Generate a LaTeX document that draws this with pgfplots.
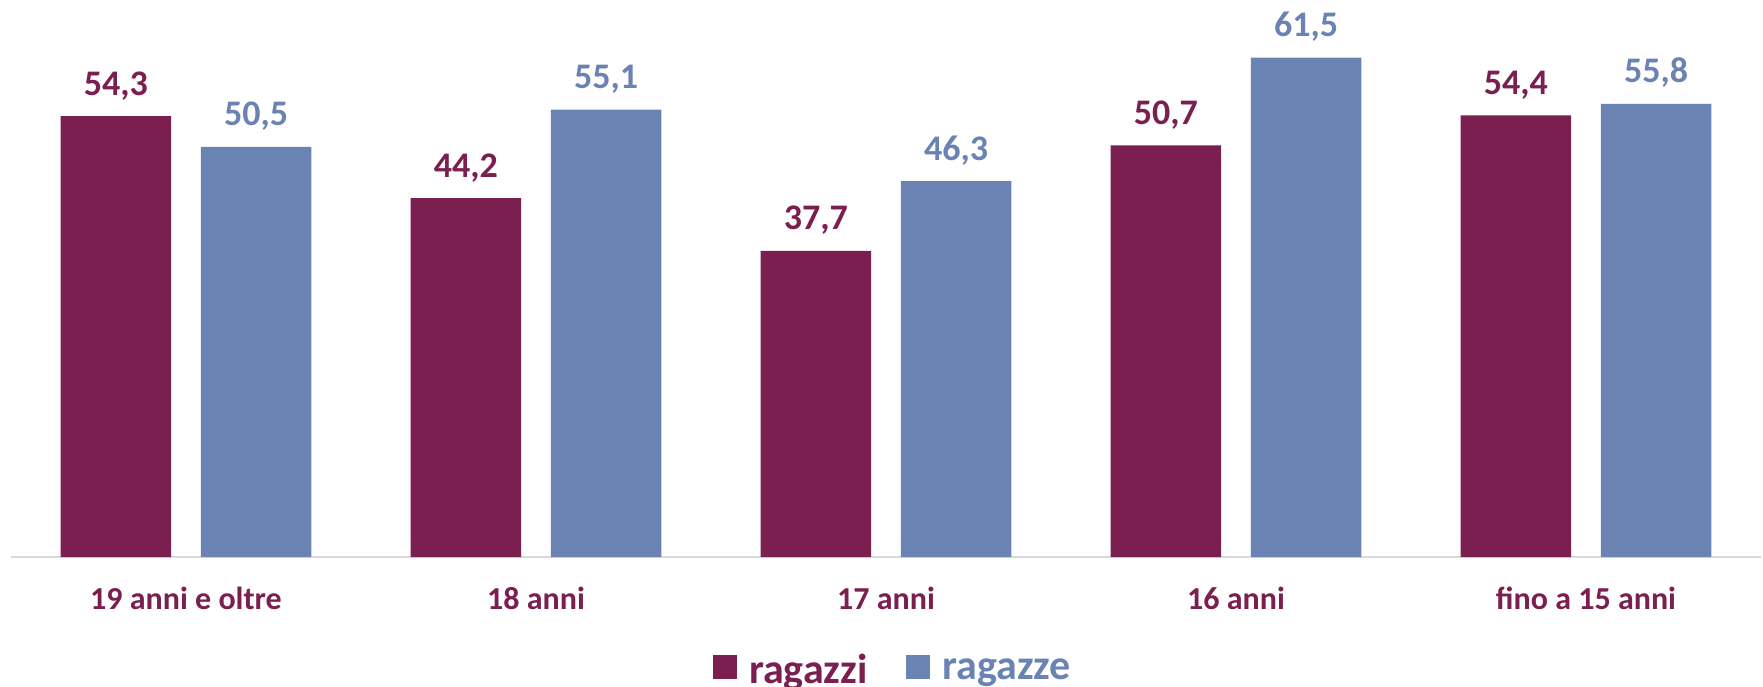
\documentclass[border=0pt]{standalone}
\usepackage{pgfplots}
\pgfplotsset{compat=1.18}
\usepackage{fontspec}
\setmainfont{Carlito}
\definecolor{boys}{HTML}{7A1F50}
\definecolor{girls}{HTML}{6B83B2}
\definecolor{axisgray}{HTML}{D9D9D9}
\begin{document}
\begin{tikzpicture}
\begin{axis}[
  at={(0,0)}, anchor=south west,
  scale only axis, width=875pt, height=278.5pt,
  xmin=-0.5, xmax=4.5, ymin=0, ymax=68.6,
  ybar, bar width=55.25pt,
  axis x line*=bottom, axis y line=none,
  x axis line style={-, draw=axisgray, line width=0.8pt},
  xtick={0,1,2,3,4},
  xticklabels={19 anni e oltre, 18 anni, 17 anni, 16 anni, fino a 15 anni},
  major tick length=0pt,
  xticklabel style={font=\fontsize{16}{19}\selectfont\bfseries, text=boys, anchor=base, yshift=-26pt},
  nodes near coords={\pgfmathprintnumber[fixed,fixed zerofill,precision=1,use comma,assume math mode=true]{\pgfplotspointmeta}},
  every node near coord/.append style={font=\fontsize{18}{22}\selectfont\bfseries, anchor=base, yshift=10.5pt},
  clip=false,
  legend columns=2,
  legend style={at={(0.5,0)}, anchor=north, yshift=-44.5pt, xshift=4pt, draw=none, fill=none,
    font=\fontsize{21}{25}\selectfont\bfseries,
    /tikz/every odd column/.append style={column sep=4pt},
    /tikz/every even column/.append style={column sep=17.5pt}},
  legend image code/.code={\fill[#1,draw=none] (0pt,-4pt) rectangle (12pt,8pt);},
]
\addplot[fill=boys, draw=none, bar shift=-35.1pt, every node near coord/.append style={text=boys}]
  coordinates {(0,54.3) (1,44.2) (2,37.7) (3,50.7) (4,54.4)};
\addlegendentry{\textcolor{boys}{ragazzi}}
\addplot[fill=girls, draw=none, bar shift=35.1pt, every node near coord/.append style={text=girls}]
  coordinates {(0,50.5) (1,55.1) (2,46.3) (3,61.5) (4,55.8)};
\addlegendentry{\textcolor{girls}{ragazze}}
\end{axis}
\pgfresetboundingbox
\useasboundingbox (-5.5pt,-64.5pt) rectangle (876pt,278.5pt);
\end{tikzpicture}
\end{document}
